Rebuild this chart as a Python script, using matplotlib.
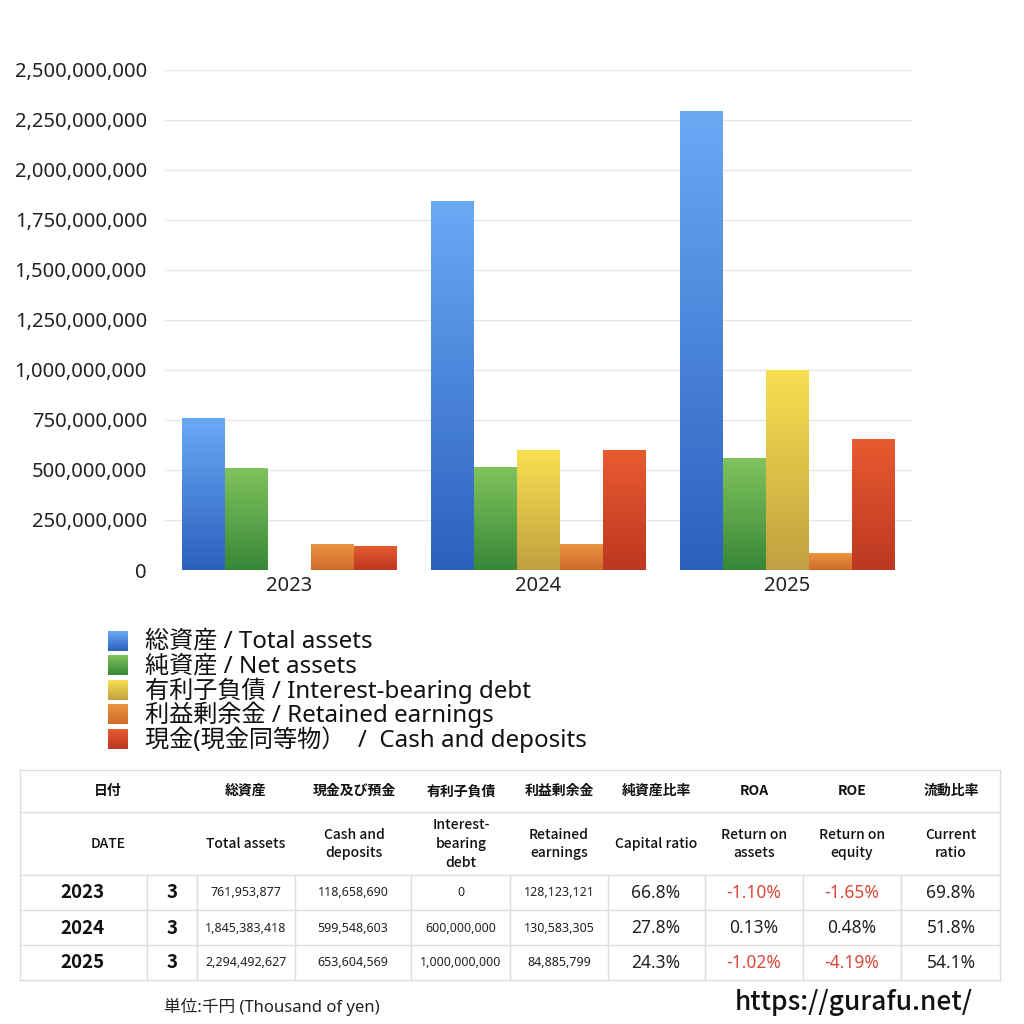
import numpy as np
import matplotlib
matplotlib.use("Agg")
import matplotlib.pyplot as plt
from matplotlib.colors import LinearSegmentedColormap
from matplotlib.ticker import FuncFormatter

plt.rcParams['font.family'] = ['Noto Sans', 'Noto Sans CJK JP', 'DejaVu Sans']
CJK = ['Noto Sans CJK JP', 'DejaVu Sans']

# ---------------- data ----------------
years = ["2023", "2024", "2025"]
series_labels = ["総資産 / Total assets", "純資産 / Net assets",
                 "有利子負債 / Interest-bearing debt", "利益剰余金 / Retained earnings",
                 "現金(現金同等物）  /  Cash and deposits"]
total_assets = [761953877, 1845383418, 2294492627]
net_assets = [509000000, 513000000, 558000000]
interest_debt = [0, 600000000, 1000000000]
retained = [128123121, 130583305, 84885799]
cash = [118658690, 599548603, 653604569]
series = [total_assets, net_assets, interest_debt, retained, cash]

grad_colors = [("#6aaaf5", "#2c60be"),
               ("#80c35c", "#388838"),
               ("#f7e050", "#c0a040"),
               ("#e9963f", "#d06a2a"),
               ("#e85a30", "#bd3822")]

yticks = [0, 250000000, 500000000, 750000000, 1000000000, 1250000000,
          1500000000, 1750000000, 2000000000, 2250000000, 2500000000]

tbl_head_jp = ["日付", "総資産", "現金及び預金", "有利子負債", "利益剰余金", "純資産比率", "ROA", "ROE", "流動比率"]
tbl_head_en = ["DATE", "Total assets", "Cash and\ndeposits", "Interest-\nbearing\ndebt", "Retained\nearnings",
               "Capital ratio", "Return on\nassets", "Return on\nequity", "Current\nratio"]
tbl_month = ["3", "3", "3"]
tbl_total = ["761,953,877", "1,845,383,418", "2,294,492,627"]
tbl_cash = ["118,658,690", "599,548,603", "653,604,569"]
tbl_debt = ["0", "600,000,000", "1,000,000,000"]
tbl_ret = ["128,123,121", "130,583,305", "84,885,799"]
tbl_cap = ["66.8%", "27.8%", "24.3%"]
tbl_roa = ["-1.10%", "0.13%", "-1.02%"]
tbl_roe = ["-1.65%", "0.48%", "-4.19%"]
tbl_cur = ["69.8%", "51.8%", "54.1%"]

# ---------------- figure ----------------
W = H = 1024
fig = plt.figure(figsize=(10.24, 10.24), dpi=100)
fig.patch.set_facecolor("white")

ax = fig.add_axes([165 / W, 1 - 570 / H, (912 - 165) / W, 500 / H])
x = np.arange(len(years))
bw = 0.172
offsets = (np.arange(5) - 2) * bw
ax.set_xlim(-0.5, 2.5)
ax.set_ylim(0, 2500000000)

for si, vals in enumerate(series):
    bars = ax.bar(x + offsets[si], vals, width=bw, color="none", edgecolor="none", zorder=3)
    top, bot = grad_colors[si]
    cmap = LinearSegmentedColormap.from_list("g%d" % si, [bot, top])
    grad = np.linspace(0, 1, 256).reshape(-1, 1)
    for b in bars:
        h = b.get_height()
        if h <= 0:
            continue
        im = ax.imshow(grad, cmap=cmap, origin="lower", aspect="auto",
                       extent=[b.get_x(), b.get_x() + b.get_width(), 0, h], zorder=3)
        im.set_clip_path(b)

ax.set_xlim(-0.5, 2.5)
ax.set_ylim(0, 2500000000)
ax.set_yticks(yticks)
ax.yaxis.set_major_formatter(FuncFormatter(lambda v, p: f"{int(v):,}"))
ax.set_xticks(x)
ax.set_xticklabels(years)
ax.tick_params(axis="y", length=0, labelsize=14.5, pad=13, colors="#222222")
ax.tick_params(axis="x", length=0, labelsize=14.5, pad=4, colors="#222222")
ax.grid(axis="y", color="#e6e6e6", linewidth=1.0, zorder=0)
ax.set_axisbelow(True)
for s in ax.spines.values():
    s.set_visible(False)

# ---------------- legend ----------------
lax = fig.add_axes([0, 0, 1, 1])
lax.set_xlim(0, W)
lax.set_ylim(H, 0)
lax.axis("off")
leg_y0 = 641
leg_dy = 24.4
for i, lab in enumerate(series_labels):
    yc = leg_y0 + i * leg_dy
    top, bot = grad_colors[i]
    cmap = LinearSegmentedColormap.from_list("l%d" % i, [top, bot])
    grad = np.linspace(0, 1, 64).reshape(-1, 1)
    lax.imshow(grad, cmap=cmap, aspect="auto", extent=[108, 128, yc + 10, yc - 10], zorder=2)
    lax.text(145, yc + 1, lab, fontsize=17.4, va="center", ha="left", color="#111111")
lax.set_xlim(0, W)
lax.set_ylim(H, 0)

# ---------------- table ----------------
line_c = "#dddddd"
tx0, tx1 = 20, 1000
hlines = [770, 812, 875, 910, 945, 980]
for yy in hlines:
    lax.plot([tx0, tx1], [yy, yy], color=line_c, lw=1.0)
lax.plot([tx0, tx0], [770, 980], color=line_c, lw=1.0)
lax.plot([tx1, tx1], [770, 980], color=line_c, lw=1.0)
vxs = [147, 197, 295, 411, 510, 608, 705, 803, 901]
for vx in vxs:
    lax.plot([vx, vx], [875, 980], color=line_c, lw=1.0)

col_cx = [108, 246, 354, 461, 559, 656, 754, 852, 951]
for cx, hj, he in zip(col_cx, tbl_head_jp, tbl_head_en):
    lax.text(cx, 791, hj, fontsize=10, ha="center", va="center", weight="bold", color="#111111",
             family=CJK)
    lax.text(cx, 844, he, fontsize=10, ha="center", va="center", color="#111111",
             linespacing=1.45, weight="medium", family=CJK)

row_y = [893, 928, 963]
neg_c = "#d9493a"
for r in range(3):
    yy = row_y[r]
    lax.text(82, yy, years[r], fontsize=13.5, ha="center", va="center", weight="bold", color="#111111",
             family=CJK)
    lax.text(172, yy, tbl_month[r], fontsize=13.5, ha="center", va="center", weight="bold", color="#111111",
             family=CJK)
    for cx, arr in zip([246, 353, 461, 559], [tbl_total, tbl_cash, tbl_debt, tbl_ret]):
        lax.text(cx, yy, arr[r], fontsize=9, ha="center", va="center", color="#222222")
    for cx, arr in zip([656, 754, 852, 951], [tbl_cap, tbl_roa, tbl_roe, tbl_cur]):
        val = arr[r]
        c = neg_c if val.startswith("-") else "#222222"
        lax.text(cx, yy, val, fontsize=12.5, ha="center", va="center", color=c)

lax.text(272, 1007, "単位:千円 (Thousand of yen)", fontsize=12, ha="center", va="center", color="#222222")
lax.text(854, 1003, "https://gurafu.net/", fontsize=19, ha="center", va="center", color="#111111",
         weight="medium", family=CJK)

fig.savefig("out.png", dpi=100, facecolor="white")
